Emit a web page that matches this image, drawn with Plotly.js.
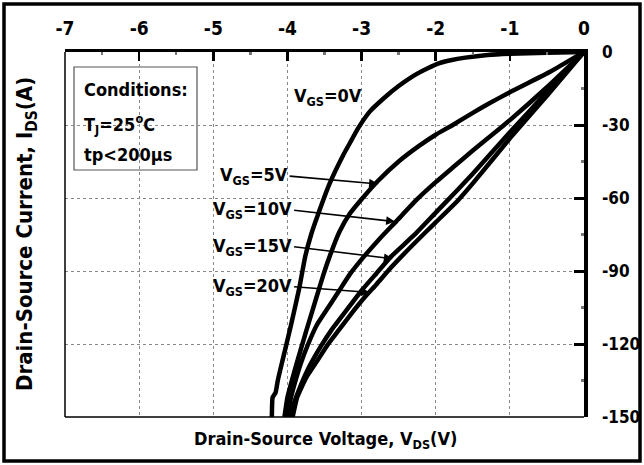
<!DOCTYPE html>
<html>
<head>
<meta charset="utf-8">
<script src="https://cdn.plot.ly/plotly-3.0.1.min.js"></script>
<style>
html,body{margin:0;padding:0;background:#fff;}
#chart{width:644px;height:465px;}
</style>
</head>
<body>
<div id="chart"></div>
<script>
// Drain-source voltage (V) and current (A) for each gate voltage
const vgs0_x  = [0, -0.5, -1.0, -1.3, -1.6, -1.8, -1.95, -2.1, -2.3, -2.5, -2.7, -2.89, -3.05, -3.15, -3.25, -3.43, -3.59, -3.68, -3.76, -3.84, -3.95, -4.06, -4.13, -4.16, -4.2, -4.21];
const vgs0_y  = [0, -0.3, -0.7, -1.2, -2.3, -3.4, -4.6, -6.6, -9.8, -14, -19, -24.5, -31.5, -37, -42.5, -54, -67, -75, -84, -97, -112, -126, -135, -140, -142, -150];
const vgs5_x  = [0, -0.45, -1.0, -1.3, -1.5, -1.77, -2.0, -2.22, -2.5, -2.78, -3.0, -3.16, -3.3, -3.43, -3.52, -3.61, -3.75, -3.88, -4.0, -4.04];
const vgs5_y  = [0, -8, -16.5, -21.5, -25, -30, -34, -38.5, -45, -53, -60.5, -66.5, -74, -84, -92, -101, -115, -128.5, -142, -150];
const vgs10_x = [0, -0.5, -1.0, -1.5, -1.77, -2.0, -2.25, -2.53, -2.75, -2.98, -3.15, -3.3, -3.45, -3.6, -3.72, -3.82, -3.9, -3.96, -4.0];
const vgs10_y = [0, -14.5, -28, -40.5, -47.5, -53.5, -60.5, -69.5, -76.5, -84.5, -91, -98, -105, -112, -120, -128, -136, -143, -150];
const vgs15_x = [0, -0.5, -1.0, -1.5, -1.7, -2.0, -2.3, -2.6, -2.8, -3.0, -3.2, -3.4, -3.55, -3.7, -3.82, -3.92, -3.97];
const vgs15_y = [0, -16.5, -33, -50, -56.5, -66, -75.5, -84, -91, -98, -106, -114, -121, -129, -137, -145, -150];
const vgs20_x = [0, -0.5, -1.0, -1.5, -1.7, -2.0, -2.3, -2.6, -2.8, -2.95, -3.15, -3.3, -3.45, -3.6, -3.75, -3.87, -3.93];
const vgs20_y = [0, -18, -35.5, -54, -61, -70, -79, -88.5, -95.5, -100.5, -108, -114, -120, -127, -134, -142, -150];

const xTicks = [-7, -6, -5, -4, -3, -2, -1, 0];
const yTicks = [0, -30, -60, -90, -120, -150];

// curve labels: text, arrow tip (on curve), arrow tail
const labelText = ['V<sub>GS</sub>=5V', 'V<sub>GS</sub>=10V', 'V<sub>GS</sub>=15V', 'V<sub>GS</sub>=20V'];
const tipX  = [-2.78, -2.55, -2.58, -2.89];
const tipY  = [-54.2, -69.7, -85, -98.8];
const tailX = [-3.97, -3.91, -3.91, -3.91];
const tailY = [-51, -65, -80, -96.5];
const conditions = ['Conditions:', 'T<sub>J</sub>=25<sup>o</sup>C', 'tp&lt;200µs'];

const FONT = '"DejaVu Sans Condensed", "Liberation Sans", Arial, sans-serif';

const series = [[vgs0_x, vgs0_y], [vgs5_x, vgs5_y], [vgs10_x, vgs10_y], [vgs15_x, vgs15_y], [vgs20_x, vgs20_y]];
const traces = series.map(s => ({
  x: s[0], y: s[1], type: 'scatter', mode: 'lines',
  line: {color: '#000', width: 4.5, shape: 'spline', smoothing: 0.4},
  hoverinfo: 'skip', showlegend: false
}));

const ML = 65, MR = 60, MT = 52, MB = 48, W = 644, H = 465;
const PW = W - ML - MR, PH = H - MT - MB;
const px = v => (v - ML) / PW;
const py = v => (H - MB - v) / PH;

const F = (s) => ({family: FONT, size: s, color: '#000', weight: 'bold'});

const annotations = [];
labelText.forEach((t, i) => {
  annotations.push({
    x: tipX[i], y: tipY[i], ax: tailX[i], ay: tailY[i], axref: 'x', ayref: 'y',
    xref: 'x', yref: 'y', text: t, showarrow: true, xanchor: 'right', yanchor: 'middle',
    arrowhead: 2, arrowsize: 1.1, arrowwidth: 1.6, arrowcolor: '#000', standoff: 0,
    font: F(18)
  });
});
annotations.push({x: -3.45, y: -18.5, xref: 'x', yref: 'y', text: 'V<sub>GS</sub>=0V', showarrow: false,
  xanchor: 'center', yanchor: 'middle', font: F(18)});
const condY = [89, 124, 154];
conditions.forEach((t, i) => {
  annotations.push({x: px(82), y: py(condY[i]), xref: 'paper', yref: 'paper', text: t, showarrow: false,
    xanchor: 'left', yanchor: 'middle', font: F(18)});
});
annotations.push({x: px(325), y: py(440), xref: 'paper', yref: 'paper',
  text: 'Drain-Source Voltage, V<sub>DS</sub>(V)', showarrow: false, xanchor: 'center', yanchor: 'middle',
  font: F(18)});
annotations.push({x: px(27), y: py(234), xref: 'paper', yref: 'paper', textangle: -90,
  text: 'Drain-Source Current, I<sub>DS</sub>(A)', showarrow: false, xanchor: 'center', yanchor: 'middle',
  font: F(22)});

const shapes = [
  {type: 'rect', xref: 'paper', yref: 'paper', x0: px(4), x1: px(640), y0: py(461), y1: py(4),
   line: {color: '#000', width: 3.5}, fillcolor: 'rgba(0,0,0,0)', layer: 'above'},
  {type: 'line', xref: 'paper', yref: 'paper', x0: 0, x1: 0, y0: 0, y1: 1, line: {color: '#000', width: 1.5}},
  {type: 'line', xref: 'paper', yref: 'paper', x0: 0, x1: 1, y0: 0, y1: 0, line: {color: '#000', width: 1.5}},
  {type: 'rect', xref: 'paper', yref: 'paper', x0: px(74), x1: px(197), y0: py(170), y1: py(67),
   line: {color: '#555', width: 1.2}, fillcolor: '#fff', layer: 'below'}
];

const layout = {
  width: W, height: H,
  margin: {l: ML, r: MR, t: MT, b: MB, pad: 0},
  paper_bgcolor: '#fff', plot_bgcolor: 'rgba(0,0,0,0)',
  showlegend: false,
  xaxis: {
    range: [-7, 0], side: 'top', tickvals: xTicks, ticktext: xTicks.map(String),
    ticks: 'inside', ticklen: 9, tickwidth: 2.5, tickcolor: '#000',
    showline: true, linecolor: '#000', linewidth: 3.5,
    showgrid: true, gridcolor: '#888', griddash: 'dot', gridwidth: 1,
    zeroline: false, ticklabelstandoff: 6,
    minor: {dtick: 0.5, ticks: 'inside', ticklen: 3, tickcolor: '#777', showgrid: false},
    tickfont: F(19)
  },
  yaxis: {
    range: [-150, 0], side: 'right', tickvals: yTicks, ticktext: yTicks.map(String),
    ticks: 'inside', ticklen: 10, tickwidth: 3, tickcolor: '#000',
    showline: true, linecolor: '#000', linewidth: 3.5,
    showgrid: true, gridcolor: '#888', griddash: 'dot', gridwidth: 1,
    zeroline: false, ticklabelstandoff: 11,
    minor: {dtick: 15, ticks: 'inside', ticklen: 3, tickcolor: '#777', showgrid: false},
    tickfont: F(17)
  },
  annotations: annotations,
  shapes: shapes
};

Plotly.newPlot('chart', traces, layout, {staticPlot: true, displayModeBar: false});
</script>
</body>
</html>
